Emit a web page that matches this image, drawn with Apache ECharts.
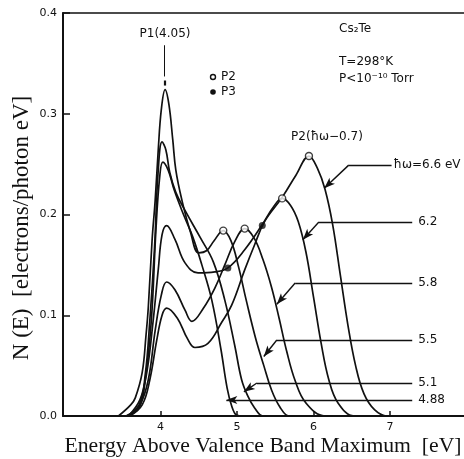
<!DOCTYPE html>
<html>
<head>
<meta charset="utf-8">
<script src="https://cdn.jsdelivr.net/npm/echarts@6/dist/echarts.min.js"></script>
<style>
  html, body { margin: 0; padding: 0; background: #fff; }
  #main { width: 464px; height: 459px; }
</style>
</head>
<body>
<div id="main"></div>
<script>
// tick positions on the energy axis
var xTicks = [4, 5, 6, 7];

// N(E) curves, one per photon energy  [energy eV, electrons/photon eV]
var curve488 = [[3.55,0],[3.72,0.008],[3.8,0.036],[3.88,0.095],[3.94,0.185],[3.99,0.238],[4.03,0.252],[4.1,0.244],[4.18,0.224],[4.3,0.2],[4.42,0.178],[4.54,0.15],[4.67,0.115],[4.79,0.066],[4.87,0.028],[4.93,0.01],[4.99,0.001],[5.05,0]];
var curve51  = [[3.55,0],[3.72,0.011],[3.8,0.041],[3.86,0.095],[3.92,0.165],[3.97,0.244],[4.02,0.272],[4.07,0.264],[4.12,0.242],[4.2,0.222],[4.32,0.204],[4.52,0.177],[4.69,0.153],[4.84,0.115],[4.97,0.07],[5.06,0.036],[5.14,0.02],[5.23,0.008],[5.34,0],[5.4,0]];
var curve55  = [[3.45,0],[3.61,0.011],[3.67,0.018],[3.76,0.043],[3.81,0.08],[3.84,0.108],[3.89,0.175],[3.93,0.214],[3.97,0.264],[4.01,0.304],[4.06,0.324],[4.11,0.309],[4.16,0.274],[4.2,0.244],[4.28,0.214],[4.39,0.183],[4.5,0.162],[4.6,0.164],[4.7,0.174],[4.82,0.184],[4.92,0.174],[5.02,0.148],[5.12,0.115],[5.24,0.078],[5.35,0.05],[5.45,0.026],[5.56,0.009],[5.68,0],[5.75,0]];
var curve58  = [[3.58,0],[3.73,0.011],[3.84,0.036],[3.93,0.085],[4.01,0.12],[4.08,0.133],[4.19,0.125],[4.32,0.105],[4.41,0.094],[4.56,0.107],[4.71,0.127],[4.84,0.15],[4.97,0.173],[5.1,0.186],[5.22,0.177],[5.34,0.155],[5.45,0.128],[5.55,0.097],[5.65,0.064],[5.76,0.035],[5.9,0.013],[6.15,0],[6.25,0]];
var curve62  = [[3.58,0],[3.73,0.016],[3.82,0.043],[3.9,0.092],[3.97,0.145],[4.02,0.18],[4.08,0.189],[4.19,0.175],[4.32,0.152],[4.49,0.142],[4.71,0.143],[4.88,0.147],[5.1,0.165],[5.33,0.19],[5.48,0.208],[5.59,0.216],[5.7,0.209],[5.8,0.193],[5.9,0.163],[6.0,0.118],[6.1,0.072],[6.2,0.036],[6.32,0.013],[6.53,0],[6.6,0]];
var curve66  = [[3.6,0],[3.76,0.011],[3.86,0.036],[3.95,0.075],[4.02,0.1],[4.08,0.107],[4.22,0.097],[4.35,0.077],[4.45,0.068],[4.62,0.072],[4.8,0.093],[4.93,0.11],[5.1,0.145],[5.23,0.17],[5.36,0.193],[5.59,0.217],[5.77,0.239],[5.94,0.258],[6.05,0.246],[6.15,0.225],[6.25,0.19],[6.35,0.14],[6.45,0.09],[6.55,0.05],[6.66,0.022],[6.8,0.006],[6.96,0],[7.05,0]];

// peak markers
var p2X = [4.82, 5.10, 5.59, 5.94];
var p2Y = [0.184, 0.186, 0.216, 0.258];
var p3X = [4.88, 5.33];
var p3Y = [0.147, 0.189];

// leader lines to each curve
var leaderLabels = ['ħω=6.6 eV', '6.2', '5.8', '5.5', '5.1', '4.88'];
var leaderY = [0.249, 0.1926, 0.132, 0.0754, 0.0328, 0.0159];
var kneeX = [6.46, 6.07, 5.76, 5.52, 5.26, 4.96];
var endX = [7.02, 7.29, 7.29, 7.29, 7.29, 7.29];
var tipX = [6.14, 5.86, 5.52, 5.35, 5.09, 4.86];
var tipY = [0.226, 0.175, 0.111, 0.059, 0.024, 0.0159];

var ink = '#111';
var annoFont = 'DejaVu Sans';

var curves = [curve488, curve51, curve55, curve58, curve62, curve66];
var series = [];
curves.forEach(function (c) {
    series.push({
        type: 'line',
        data: c,
        smooth: 0.4,
        showSymbol: false,
        lineStyle: { color: ink, width: 1.7 },
        z: 3
    });
});

// leaders: horizontal part with label, diagonal part with arrow
var hLines = [], dLines = [];
for (var i = 0; i < leaderLabels.length; i++) {
    hLines.push([
        { coord: [kneeX[i], leaderY[i]] },
        { coord: [endX[i], leaderY[i]], label: { formatter: leaderLabels[i], distance: i === 0 ? 2 : 6 } }
    ]);
    dLines.push([
        { coord: [kneeX[i], leaderY[i]] },
        { coord: [tipX[i], tipY[i]] }
    ]);
}

series.push({
    type: 'line',
    data: [],
    markLine: {
        silent: true,
        symbol: ['none', 'none'],
        animation: false,
        lineStyle: { color: ink, width: 1.4, type: 'solid' },
        label: { show: true, position: 'end', distance: 6, color: ink, fontSize: 12, fontFamily: annoFont },
        data: hLines
    }
});
series.push({
    type: 'line',
    data: [],
    markLine: {
        silent: true,
        symbol: ['none', 'arrow'],
        symbolSize: [6, 11],
        animation: false,
        lineStyle: { color: ink, width: 1.4, type: 'solid' },
        itemStyle: { color: ink },
        label: { show: false },
        data: dLines
    }
});
// P1 pointer
series.push({
    type: 'line',
    data: [],
    markLine: {
        silent: true,
        symbol: ['none', 'none'],
        animation: false,
        label: { show: false },
        data: [
            [{ coord: [4.05, 0.368], lineStyle: { width: 1, color: ink, type: 'solid' } }, { coord: [4.05, 0.337] }],
            [{ coord: [4.05, 0.333], lineStyle: { width: 2.2, color: ink, type: 'solid' } }, { coord: [4.05, 0.328] }]
        ]
    }
});

series.push({
    type: 'scatter',
    data: p2X.map(function (x, k) { return [x, p2Y[k]]; }),
    symbol: 'circle',
    symbolSize: 7,
    itemStyle: { color: '#fff', borderColor: ink, borderWidth: 1.4 },
    z: 5
});
series.push({
    type: 'scatter',
    data: p3X.map(function (x, k) { return [x, p3Y[k]]; }),
    symbol: 'circle',
    symbolSize: 7,
    itemStyle: { color: ink },
    z: 5
});

var chart = echarts.init(document.getElementById('main'), null, { renderer: 'canvas' });
chart.setOption({
    animation: false,
    backgroundColor: '#fff',
    grid: { left: 63, right: 0, top: 13, bottom: 43 },
    xAxis: [{
        type: 'value',
        min: 2.725,
        max: 7.967,
        axisLine: { lineStyle: { color: ink, width: 2 } },
        axisTick: { inside: true, length: 5, customValues: xTicks, lineStyle: { color: ink, width: 1.5 } },
        axisLabel: { customValues: xTicks, margin: 6, color: ink, fontSize: 11, fontFamily: annoFont },
        splitLine: { show: false }
    }, {
        type: 'value',
        position: 'top',
        min: 2.725,
        max: 7.967,
        axisLine: { lineStyle: { color: ink, width: 1.5 } },
        axisTick: { show: false },
        axisLabel: { show: false },
        splitLine: { show: false }
    }],
    yAxis: {
        type: 'value',
        min: 0,
        max: 0.4,
        interval: 0.1,
        axisLine: { show: true, lineStyle: { color: ink, width: 2 } },
        axisTick: { show: true, inside: true, length: 7, lineStyle: { color: ink, width: 1.5 } },
        axisLabel: { margin: 6, color: ink, fontSize: 11, fontFamily: annoFont,
            formatter: function (v) { return v.toFixed(1); } },
        splitLine: { show: false }
    },
    graphic: [
        { type: 'text', x: 22, y: 228, rotation: Math.PI / 2,
            style: { x: 0, y: 0, text: 'N (E)  [electrons/photon eV]', fill: ink,
            font: '23px "Liberation Serif"', align: 'center', verticalAlign: 'middle' } },
        { type: 'text', style: { x: 263, y: 446, text: 'Energy Above Valence Band Maximum  [eV]', fill: ink,
            font: '21.7px "Liberation Serif"', align: 'center', verticalAlign: 'middle' } },
        { type: 'text', style: { x: 165, y: 34, text: 'P1(4.05)', fill: ink, font: '12px "DejaVu Sans"', align: 'center', verticalAlign: 'middle' } },
        { type: 'text', style: { x: 339, y: 29, text: 'Cs₂Te', fill: ink, font: '12px "DejaVu Sans"', verticalAlign: 'middle' } },
        { type: 'text', style: { x: 339, y: 62, text: 'T=298°K', fill: ink, font: '12px "DejaVu Sans"', verticalAlign: 'middle' } },
        { type: 'text', style: { x: 339, y: 79, text: 'P<10⁻¹⁰ Torr', fill: ink, font: '12px "DejaVu Sans"', verticalAlign: 'middle' } },
        { type: 'text', style: { x: 327, y: 137, text: 'P2(ħω−0.7)', fill: ink, font: '12px "DejaVu Sans"', align: 'center', verticalAlign: 'middle' } },
        { type: 'circle', shape: { cx: 213, cy: 77, r: 2.5 }, style: { fill: '#fff', stroke: ink, lineWidth: 1.4 } },
        { type: 'text', style: { x: 221, y: 77, text: 'P2', fill: ink, font: '12px "DejaVu Sans"', verticalAlign: 'middle' } },
        { type: 'circle', shape: { cx: 213, cy: 92, r: 2.8 }, style: { fill: ink } },
        { type: 'text', style: { x: 221, y: 92, text: 'P3', fill: ink, font: '12px "DejaVu Sans"', verticalAlign: 'middle' } }
    ],
    series: series
});
</script>
</body>
</html>
